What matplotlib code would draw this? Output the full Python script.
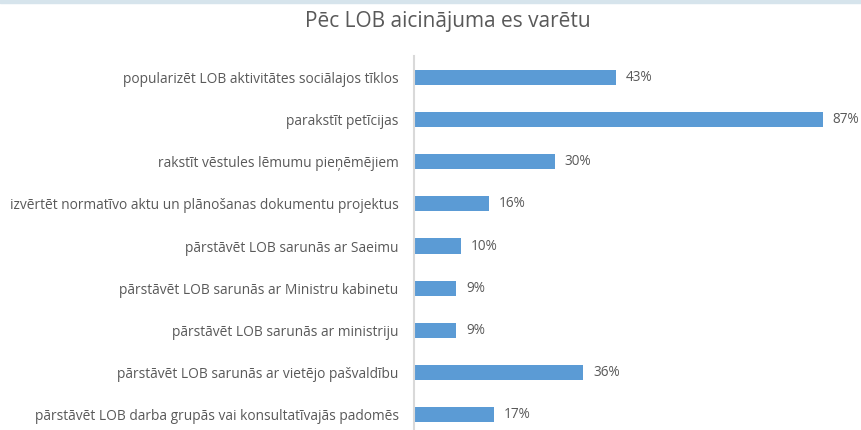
import matplotlib.pyplot as plt
from matplotlib.patches import Rectangle

categories = [
    'popularizēt LOB aktivitātes sociālajos tīklos',
    'parakstīt petīcijas',
    'rakstīt vēstules lēmumu pieņēmējiem',
    'izvērtēt normatīvo aktu un plānošanas dokumentu projektus',
    'pārstāvēt LOB sarunās ar Saeimu',
    'pārstāvēt LOB sarunās ar Ministru kabinetu',
    'pārstāvēt LOB sarunās ar ministriju',
    'pārstāvēt LOB sarunās ar vietējo pašvaldību',
    'pārstāvēt LOB darba grupās vai konsultatīvajās padomēs',
]
values = [43, 87, 30, 16, 10, 9, 9, 36, 17]

plt.rcParams['font.family'] = ['Open Sans', 'DejaVu Sans']

fig = plt.figure(figsize=(8.62, 4.30), dpi=100)
fig.patches.append(Rectangle((0, 1 - 3 / 430), 1, 3 / 430, transform=fig.transFigure,
                             color='#d6e4ec', zorder=0))

# axes runs a little past the bottom edge, like the cropped original
ax = fig.add_axes([414 / 862, -6 / 430, 448 / 862, 380 / 430])
y = list(range(len(categories)))
ax.barh(y, values, height=0.36, color='#5b9bd5')
ax.set_ylim(len(categories) - 0.5, -0.5)
ax.set_xlim(0, 95.3)

for yi, v in zip(y, values):
    ax.text(v + 2.1, yi, f'{v}%', va='center', ha='left', fontsize=9.8, color='#595959')

ax.set_yticks(y)
ax.set_yticklabels(categories, fontsize=9.9, color='#595959')
ax.tick_params(axis='y', length=0, pad=11)
ax.set_xticks([])
for s in ['top', 'right', 'bottom']:
    ax.spines[s].set_visible(False)
ax.spines['left'].set_color('#d9d9d9')
ax.spines['left'].set_linewidth(1.5)

fig.text(448 / 862, 1 - 21 / 430, 'Pēc LOB aicinājuma es varētu', ha='center', va='center',
         fontsize=15, color='#595959')

fig.savefig('out.png', dpi=100)
